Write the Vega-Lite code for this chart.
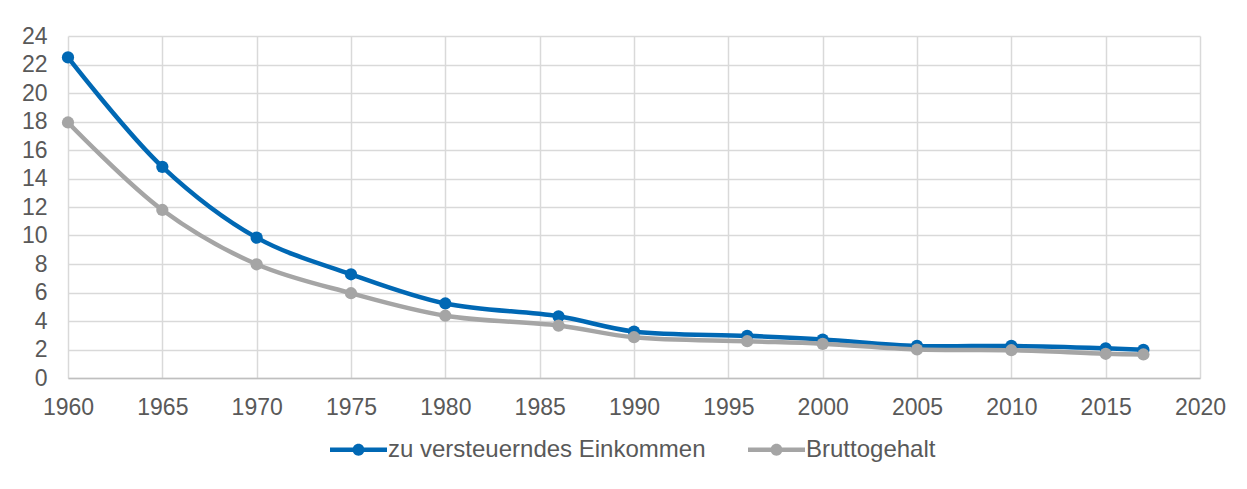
{
  "$schema": "https://vega.github.io/schema/vega-lite/v6.json",
  "width": 1132,
  "height": 342,
  "autosize": {"type": "none"},
  "padding": {"left": 68, "top": 36, "right": 47, "bottom": 111},
  "background": "white",
  "data": {"values": [
    {"year": 1960, "series": "zu versteuerndes Einkommen", "value": 22.5},
    {"year": 1965, "series": "zu versteuerndes Einkommen", "value": 14.82},
    {"year": 1970, "series": "zu versteuerndes Einkommen", "value": 9.85},
    {"year": 1975, "series": "zu versteuerndes Einkommen", "value": 7.28},
    {"year": 1980, "series": "zu versteuerndes Einkommen", "value": 5.23},
    {"year": 1986, "series": "zu versteuerndes Einkommen", "value": 4.33},
    {"year": 1990, "series": "zu versteuerndes Einkommen", "value": 3.26},
    {"year": 1996, "series": "zu versteuerndes Einkommen", "value": 2.96},
    {"year": 2000, "series": "zu versteuerndes Einkommen", "value": 2.7},
    {"year": 2005, "series": "zu versteuerndes Einkommen", "value": 2.25},
    {"year": 2010, "series": "zu versteuerndes Einkommen", "value": 2.25},
    {"year": 2015, "series": "zu versteuerndes Einkommen", "value": 2.08},
    {"year": 2017, "series": "zu versteuerndes Einkommen", "value": 1.98},
    {"year": 1960, "series": "Bruttogehalt", "value": 17.93},
    {"year": 1965, "series": "Bruttogehalt", "value": 11.79},
    {"year": 1970, "series": "Bruttogehalt", "value": 7.98},
    {"year": 1975, "series": "Bruttogehalt", "value": 5.95},
    {"year": 1980, "series": "Bruttogehalt", "value": 4.37},
    {"year": 1986, "series": "Bruttogehalt", "value": 3.68},
    {"year": 1990, "series": "Bruttogehalt", "value": 2.86},
    {"year": 1996, "series": "Bruttogehalt", "value": 2.58},
    {"year": 2000, "series": "Bruttogehalt", "value": 2.4},
    {"year": 2005, "series": "Bruttogehalt", "value": 2.0},
    {"year": 2010, "series": "Bruttogehalt", "value": 1.95},
    {"year": 2015, "series": "Bruttogehalt", "value": 1.7},
    {"year": 2017, "series": "Bruttogehalt", "value": 1.65}
  ]},
  "encoding": {
    "x": {
      "field": "year", "type": "quantitative",
      "scale": {"domain": [1960, 2020], "nice": false, "zero": false},
      "axis": {
        "title": null, "values": [1960,1965,1970,1975,1980,1985,1990,1995,2000,2005,2010,2015,2020],
        "format": "d", "ticks": false, "labelPadding": 18, "labelFlush": false, "labelOverlap": false,
        "domainColor": "#bfbfbf", "domainWidth": 1.5,
        "gridColor": "#d9d9d9", "gridWidth": 1.5
      }
    },
    "y": {
      "field": "value", "type": "quantitative",
      "scale": {"domain": [0, 24], "nice": false},
      "axis": {
        "title": null, "values": [0,2,4,6,8,10,12,14,16,18,20,22,24],
        "ticks": false, "domain": false, "labelPadding": 21, "labelOverlap": false, "labelFlush": false,
        "gridColor": "#d9d9d9", "gridWidth": 1.5
      }
    },
    "color": {
      "field": "series", "type": "nominal",
      "scale": {"domain": ["zu versteuerndes Einkommen", "Bruttogehalt"], "range": ["#0068b4", "#a5a5a5"]},
      "legend": {
        "title": null, "orient": "none", "direction": "horizontal",
        "legendX": 262, "legendY": 385,
        "symbolType": "M-1,-0.08L1,-0.08L1,0.08L-1,0.08Z M-0.21,0A0.21,0.21 0 1,1 0.21,0A0.21,0.21 0 1,1 -0.21,0Z",
        "symbolSize": 3249, "symbolStrokeWidth": 0, "symbolOpacity": 1,
        "labelFontSize": 24, "labelColor": "#595959", "labelFont": "Liberation Sans",
        "labelOffset": 1, "columnPadding": 42, "labelLimit": 400
      }
    }
  },
  "layer": [
    {
      "mark": {"type": "line", "interpolate": "catmull-rom", "strokeWidth": 4.5, "strokeCap": "round"}
    },
    {
      "mark": {"type": "point", "filled": true, "size": 150, "opacity": 1}
    }
  ],
  "config": {
    "view": {"stroke": null},
    "axis": {"labelFont": "Liberation Sans", "labelFontSize": 23, "labelColor": "#595959"}
  }
}
